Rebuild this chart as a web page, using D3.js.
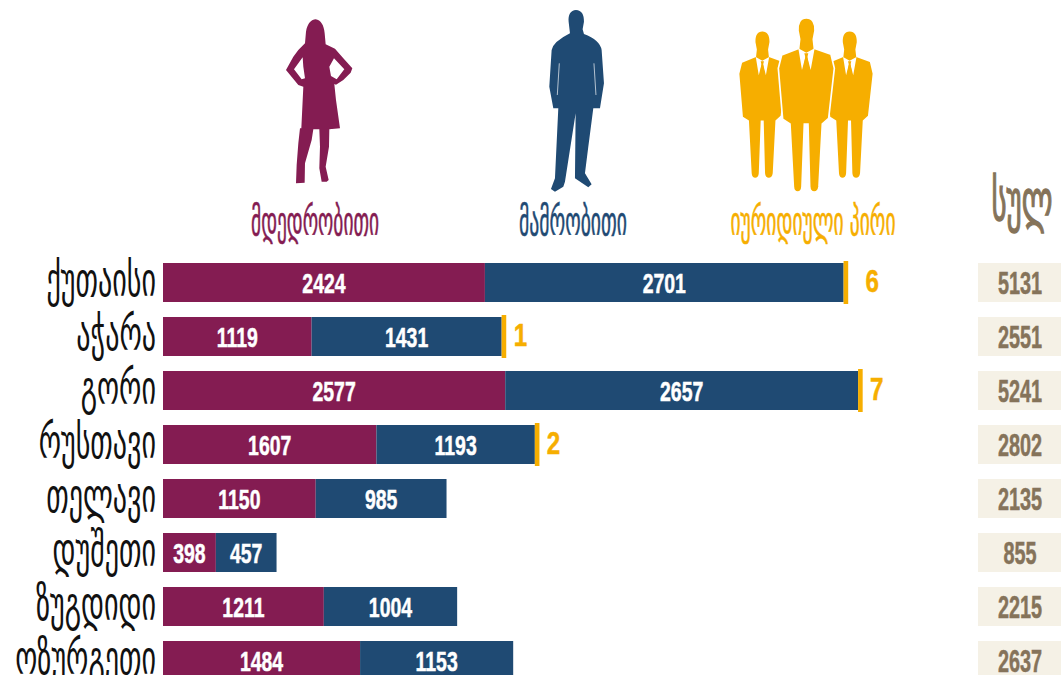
<!DOCTYPE html>
<html lang="ka">
<head>
<meta charset="UTF-8" />
<title>ფიზიკური და იურიდიული პირები</title>
<script src="https://d3js.org/d3.v7.min.js"></script>
<style>
  html, body { margin: 0; padding: 0; background: #fff; overflow: hidden; }
  svg { display: block; }
  .region { font-family: "DejaVu Sans"; fill: #111; text-anchor: end; }
  .num { font-family: "Liberation Sans"; font-weight: 700; stroke-width: 0.5; }
  .head { font-family: "DejaVu Sans"; text-anchor: middle; }
</style>
</head>
<body>
<div id="chart"></div>

<script>
const regions = ['ქუთაისი', 'აჭარა', 'გორი', 'რუსთავი', 'თელავი', 'დუშეთი', 'ზუგდიდი', 'ოზურგეთი'];
const female = [2424, 1119, 2577, 1607, 1150, 398, 1211, 1484];
const male = [2701, 1431, 2657, 1193, 985, 457, 1004, 1153];
const legal = [6, 1, 7, 2, 0, 0, 0, 0];
const totals = [5131, 2551, 5241, 2802, 2135, 855, 2215, 2637];

const maroon = '#841c52', blue = '#1f4a73', amber = '#f6ae00', brown = '#85735a', cream = '#f5f1e6';

const width = 1061, height = 675;
const svg = d3.select('#chart').append('svg')
  .attr('width', width)
  .attr('height', height);

const x = d3.scaleLinear().domain([0, 5241]).range([163, 859]);
const y = d3.scaleBand().domain(regions).range([263, 680]).paddingInner(15 / 54);

const rows = svg.selectAll('.row')
  .data(regions)
  .enter().append('g')
  .attr('class', 'row')
  .attr('transform', d => `translate(0,${y(d)})`);

const numText = (sel, cx, fill, anchor, size, sx, dy) => sel.append('text')
  .attr('class', 'num')
  .attr('transform', (d, i) => `translate(${cx(d, i)},${y.bandwidth() / 2 + dy}) scale(${sx},1)`)
  .attr('text-anchor', anchor)
  .attr('font-size', size)
  .attr('fill', fill)
  .attr('stroke', fill);

// female + male segments
rows.append('rect')
  .attr('x', x(0))
  .attr('height', y.bandwidth())
  .attr('width', (d, i) => x(female[i]) - x(0))
  .attr('fill', maroon);
rows.append('rect')
  .attr('x', (d, i) => x(female[i]))
  .attr('height', y.bandwidth())
  .attr('width', (d, i) => x(female[i] + male[i]) - x(female[i]))
  .attr('fill', blue);

numText(rows, (d, i) => (x(0) + x(female[i])) / 2, '#fff', 'middle', 27, 0.72, 10).text((d, i) => female[i]);
numText(rows, (d, i) => (x(female[i]) + x(female[i] + male[i])) / 2, '#fff', 'middle', 27, 0.72, 10).text((d, i) => male[i]);

// legal entities: too small for the scale, so a fixed width tick
const legalRows = rows.filter((d, i) => legal[i] > 0);
const stackEnd = d => x(female[regions.indexOf(d)] + male[regions.indexOf(d)]);
legalRows.append('rect')
  .attr('x', stackEnd)
  .attr('y', -2)
  .attr('width', 4.6)
  .attr('height', y.bandwidth() + 4)
  .attr('fill', amber);
// the "6" sits further from its tick than the others in the original
numText(legalRows, d => stackEnd(d) + (legal[regions.indexOf(d)] === 6 ? 22 : 12), amber, 'start', 31, 0.78, 9)
  .text(d => legal[regions.indexOf(d)]);

// totals column
rows.append('rect')
  .attr('x', 978)
  .attr('width', 83)
  .attr('height', y.bandwidth())
  .attr('fill', cream);
numText(rows, () => 1020, brown, 'middle', 31, 0.64, 11).text((d, i) => totals[i]);

// region names
rows.append('text')
  .attr('class', 'region')
  .attr('transform', `translate(156,${y.bandwidth() / 2 + 13}) scale(0.585,1)`)
  .attr('font-size', 48)
  .text(d => d);

// column headings, squeezed to the measured width
const heads = [
  ['მდედრობითი', 315, 235, 128, 40, maroon, 0.6],
  ['მამრობითი', 573, 235, 108, 40, blue, 0.6],
  ['იურიდიული პირი', 813, 235, 165, 40, amber, 0.6],
  ['სულ', 1022, 220, 61, 56, brown, 1.4]
];
svg.selectAll('.head')
  .data(heads)
  .enter().append('text')
  .attr('class', 'head')
  .attr('font-size', d => d[4])
  .attr('fill', d => d[5])
  .attr('stroke', d => d[5])
  .attr('stroke-width', d => d[6])
  .text(d => d[0])
  .attr('transform', function(d) {
    return `translate(${d[1]},${d[2]}) scale(${d[3] / this.getComputedTextLength()},1)`;
  });

// silhouettes, outlined from the picture at 3x
const icon = svg.append('g');

const woman = icon.append('g').attr('transform', 'translate(230,0) scale(0.3333)').attr('fill', maroon);
woman.append('path')
  .attr('fill-rule', 'evenodd')
  .attr('d', `M257,58 C272,60 282,75 284,100 L287,133 L315,146 L340,175 L367,205 L362,218 L340,240 L318,254 L313,252
    L318,300 L330,385 L298,388 L297,440 L287,500 L296,540 L290,545 L275,545 L268,505 L270,440 L268,388 L250,388 L245,420 L225,490
    L224,548 L198,550 L200,495 L205,430 L210,385 L214,385 L220,260 L205,255 L168,210 L190,170 L205,150 L225,130 L228,95
    C232,70 245,58 257,58 Z
    M218,172 L192,208 L215,238 L225,235 L220,200 Z
    M312,175 L343,208 L320,238 L303,228 L298,200 Z`);

const man = icon.append('g').attr('transform', 'translate(230,0) scale(0.3333)').attr('fill', blue);
man.append('path')
  .attr('d', `M1038,30 C1055,30 1063,45 1062,65 L1058,88 L1062,102 Q1110,120 1115,150 L1122,250 L1110,325 L1090,325 L1075,440
    L1065,520 L1085,553 L1075,562 L1035,535 L1037,340 L1005,545 L1000,560 L975,575 L963,567 L975,535 L985,325 L970,325
    L958,260 L965,150 Q970,125 1020,100 L1016,65 C1014,45 1022,30 1038,30 Z`);
man.append('path')
  .attr('d', 'M988,190 L982,285 M1092,190 L1098,285')
  .attr('stroke', '#fff').attr('stroke-width', 2).attr('fill', 'none');

const suit = `M319,54 C338,54 346,70 345,92 L340,118 L343,145 L393,163 L403,205 L386,355 L367,372 L357,560 C355,582 330,582 329,560
  L324,372 L313,372 L306,560 C305,582 281,582 280,560 L270,372 L248,358 L235,205 L245,165 L296,145 L299,118 L294,92 C293,70 300,54 319,54 Z`;
const suitMan = (t, stroke) => {
  const g = icon.append('g').attr('transform', `translate(700,0) scale(0.3333) ${t}`);
  g.append('path').attr('d', suit).attr('fill', amber).attr('stroke', stroke ? '#fff' : 'none').attr('stroke-width', 5);
  g.append('path').attr('d', 'M295,145 L306,210 L319,160 L332,210 L344,145 L319,158 Z').attr('fill', '#fff');
  g.append('path').attr('d', 'M313,160 L325,160 L322,172 L329,210 L309,210 L316,172 Z').attr('fill', amber);
};
suitMan('translate(187,125) scale(0.82,0.84) translate(-319,-90)', false);
suitMan('translate(449,125) scale(0.82,0.84) translate(-319,-90)', false);
suitMan('', true);
</script>
</body>
</html>
